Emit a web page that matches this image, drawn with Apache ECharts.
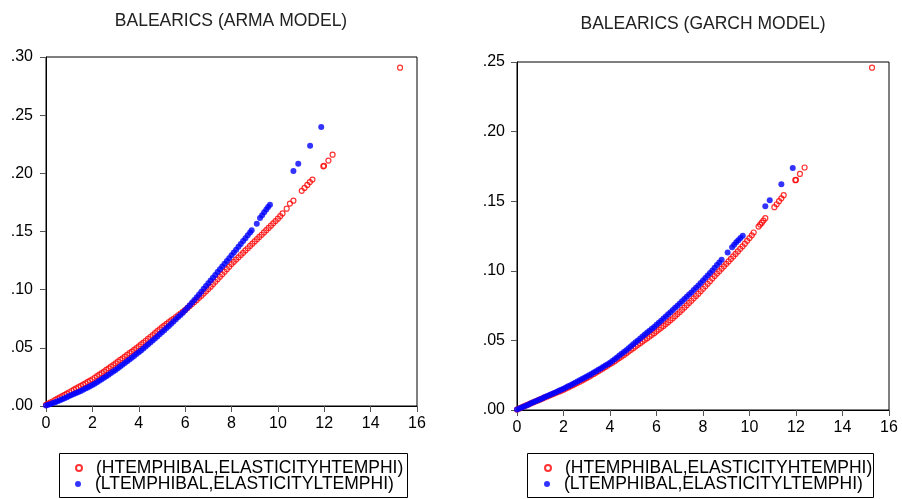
<!DOCTYPE html>
<html>
<head>
<meta charset="utf-8">
<script src="https://cdn.jsdelivr.net/npm/echarts@6/dist/echarts.min.js"></script>
<style>
  html, body { margin: 0; padding: 0; background: #fff; }
  #main { width: 902px; height: 499px; }
</style>
</head>
<body>
<div id="main"></div>
<script>
// names and ticks
var highName = '(HTEMPHIBAL,ELASTICITYHTEMPHI)';
var lowName = '(LTEMPHIBAL,ELASTICITYLTEMPHI)';
var titles = ['BALEARICS (ARMA MODEL)', 'BALEARICS (GARCH MODEL)'];
var xTicks = [0, 16, 2];
var yMaxArma = 0.30, yMaxGarch = 0.25, yStep = 0.05;

// ARMA model, [temperature, elasticity]
var armaHigh = [[0,.0010],[.1,.0020],[.2,.0031],[.3,.0041],[.4,.0052],[.5,.0063],[.6,.0074],[.7,.0085],[.8,.0096],[.9,.0107],
  [1,.0118],[1.1,.0129],[1.2,.0140],[1.3,.0151],[1.4,.0162],[1.5,.0173],[1.6,.0184],[1.7,.0195],[1.8,.0207],[1.9,.0218],
  [2,.0230],[2.1,.0243],[2.2,.0256],[2.3,.0269],[2.4,.0282],[2.5,.0296],[2.6,.0310],[2.7,.0324],[2.8,.0338],[2.9,.0352],
  [3,.0367],[3.1,.0381],[3.2,.0396],[3.3,.0410],[3.4,.0425],[3.5,.0439],[3.6,.0454],[3.7,.0468],[3.8,.0483],[3.9,.0498],
  [4,.0513],[4.1,.0529],[4.2,.0545],[4.3,.0561],[4.4,.0577],[4.5,.0593],[4.6,.0610],[4.7,.0626],[4.8,.0643],[4.9,.0659],
  [5,.0676],[5.1,.0691],[5.2,.0706],[5.3,.0721],[5.4,.0736],[5.5,.0750],[5.6,.0765],[5.7,.0780],[5.8,.0795],[5.9,.0810],
  [6,.0825],[6.1,.0842],[6.2,.0860],[6.3,.0877],[6.4,.0895],[6.5,.0912],[6.6,.0930],[6.7,.0948],[6.8,.0967],[6.9,.0986],
  [7,.1005],[7.1,.1026],[7.2,.1047],[7.3,.1068],[7.4,.1090],[7.5,.1111],[7.6,.1132],[7.7,.1154],[7.8,.1176],[7.9,.1198],
  [8,.1220],[8.1,.1239],[8.2,.1259],[8.3,.1278],[8.4,.1298],[8.5,.1317],[8.6,.1337],[8.7,.1356],[8.8,.1376],[8.9,.1395],
  [9,.1415],[9.1,.1434],[9.2,.1453],[9.3,.1472],[9.4,.1492],[9.5,.1511],[9.6,.1531],[9.7,.1550],[9.8,.1570],[9.9,.1590],
  [10,.1610],[10.1,.1632],[10.2,.1655],[10.38,.1696],[10.52,.1740],[10.67,.1765],[11.03,.1850],[11.15,.1875],[11.27,.1900],
  [11.38,.1925],[11.49,.1946],[11.96,.2060],[11.99,.2065],[12.18,.2110],[12.36,.2160],[15.27,.2908]];
var armaLow = [[0,.0005],[.1,.0011],[.2,.0018],[.3,.0025],[.4,.0032],[.5,.0040],[.6,.0049],[.7,.0058],[.8,.0067],[.9,.0076],
  [1,.0085],[1.1,.0094],[1.2,.0103],[1.3,.0112],[1.4,.0121],[1.5,.0130],[1.6,.0140],[1.7,.0150],[1.8,.0160],[1.9,.0170],
  [2,.0180],[2.1,.0192],[2.2,.0205],[2.3,.0217],[2.4,.0230],[2.5,.0243],[2.6,.0256],[2.7,.0269],[2.8,.0283],[2.9,.0296],
  [3,.0310],[3.1,.0324],[3.2,.0339],[3.3,.0354],[3.4,.0369],[3.5,.0384],[3.6,.0399],[3.7,.0414],[3.8,.0430],[3.9,.0446],
  [4,.0462],[4.1,.0478],[4.2,.0495],[4.3,.0512],[4.4,.0529],[4.5,.0546],[4.6,.0563],[4.7,.0580],[4.8,.0598],[4.9,.0616],
  [5,.0634],[5.1,.0652],[5.2,.0670],[5.3,.0688],[5.4,.0707],[5.5,.0726],[5.6,.0745],[5.7,.0764],[5.8,.0783],[5.9,.0802],
  [6,.0822],[6.1,.0844],[6.2,.0866],[6.3,.0889],[6.4,.0912],[6.5,.0935],[6.6,.0959],[6.7,.0983],[6.8,.1007],[6.9,.1031],
  [7,.1055],[7.1,.1079],[7.2,.1103],[7.3,.1127],[7.4,.1151],[7.5,.1175],[7.6,.1199],[7.7,.1223],[7.8,.1247],[7.9,.1271],
  [8,.1295],[8.1,.1319],[8.2,.1344],[8.3,.1368],[8.4,.1393],[8.5,.1418],[8.6,.1442],[8.7,.1467],[8.8,.1491],[8.87,.1510],
  [9.09,.1567],[9.23,.1616],[9.32,.1640],[9.41,.1665],[9.5,.1690],[9.58,.1710],[9.66,.1730],[10.67,.2020],[10.88,.2083],
  [11.39,.2238],[11.87,.2398]];

// GARCH model
var garchHigh = [[0,.0003],[.1,.0011],[.2,.0019],[.3,.0027],[.4,.0034],[.5,.0041],[.6,.0048],[.7,.0055],[.8,.0062],[.9,.0069],
  [1,.0076],[1.1,.0083],[1.2,.0090],[1.3,.0097],[1.4,.0104],[1.5,.0111],[1.6,.0118],[1.7,.0125],[1.8,.0132],[1.9,.0139],
  [2,.0146],[2.1,.0154],[2.2,.0162],[2.3,.0170],[2.4,.0178],[2.5,.0186],[2.6,.0195],[2.7,.0203],[2.8,.0212],[2.9,.0221],
  [3,.0230],[3.1,.0239],[3.2,.0249],[3.3,.0259],[3.4,.0269],[3.5,.0279],[3.6,.0289],[3.7,.0299],[3.8,.0309],[3.9,.0319],
  [4,.0330],[4.1,.0340],[4.2,.0351],[4.3,.0362],[4.4,.0373],[4.5,.0384],[4.6,.0396],[4.7,.0408],[4.8,.0420],[4.9,.0432],
  [5,.0444],[5.1,.0456],[5.2,.0468],[5.3,.0480],[5.4,.0492],[5.5,.0504],[5.6,.0516],[5.7,.0528],[5.8,.0540],[5.9,.0552],
  [6,.0565],[6.1,.0578],[6.2,.0591],[6.3,.0604],[6.4,.0617],[6.5,.0631],[6.6,.0645],[6.7,.0659],[6.8,.0674],[6.9,.0689],
  [7,.0704],[7.1,.0720],[7.2,.0736],[7.3,.0752],[7.4,.0769],[7.5,.0785],[7.6,.0802],[7.7,.0819],[7.8,.0836],[7.9,.0853],
  [8,.0871],[8.1,.0889],[8.2,.0907],[8.3,.0925],[8.4,.0944],[8.5,.0962],[8.6,.0980],[8.7,.0997],[8.8,.1015],[8.9,.1032],
  [9,.1050],[9.1,.1067],[9.2,.1085],[9.3,.1103],[9.4,.1121],[9.5,.1139],[9.6,.1158],[9.7,.1176],[9.8,.1195],[9.9,.1215],
  [10,.1235],[10.1,.1255],[10.18,.1275],[10.39,.1318],[10.46,.1332],[10.53,.1346],[10.6,.1361],[10.68,.1378],[11.07,.1457],
  [11.17,.1478],[11.27,.1500],[11.37,.1521],[11.47,.1543],[11.97,.1651],[12,.1653],[12.17,.1696],[12.37,.1742],[15.27,.2459]];
var garchLow = [[0,.0003],[.1,.0010],[.2,.0018],[.3,.0025],[.4,.0033],[.5,.0040],[.6,.0048],[.7,.0055],[.8,.0063],[.9,.0070],
  [1,.0078],[1.1,.0085],[1.2,.0093],[1.3,.0100],[1.4,.0108],[1.5,.0115],[1.6,.0123],[1.7,.0130],[1.8,.0138],[1.9,.0145],
  [2,.0153],[2.1,.0161],[2.2,.0170],[2.3,.0178],[2.4,.0187],[2.5,.0195],[2.6,.0204],[2.7,.0213],[2.8,.0222],[2.9,.0231],
  [3,.0240],[3.1,.0249],[3.2,.0259],[3.3,.0269],[3.4,.0279],[3.5,.0289],[3.6,.0299],[3.7,.0309],[3.8,.0319],[3.9,.0329],
  [4,.0340],[4.1,.0352],[4.2,.0365],[4.3,.0378],[4.4,.0391],[4.5,.0404],[4.6,.0417],[4.7,.0430],[4.8,.0444],[4.9,.0458],
  [5,.0472],[5.1,.0486],[5.2,.0500],[5.3,.0514],[5.4,.0528],[5.5,.0542],[5.6,.0556],[5.7,.0569],[5.8,.0583],[5.9,.0597],
  [6,.0612],[6.1,.0627],[6.2,.0642],[6.3,.0657],[6.4,.0672],[6.5,.0687],[6.6,.0703],[6.7,.0718],[6.8,.0734],[6.9,.0749],
  [7,.0765],[7.1,.0781],[7.2,.0797],[7.3,.0813],[7.4,.0829],[7.5,.0845],[7.6,.0862],[7.7,.0878],[7.8,.0895],[7.9,.0912],
  [8,.0930],[8.1,.0948],[8.2,.0966],[8.3,.0984],[8.4,.1003],[8.5,.1022],[8.6,.1041],[8.7,.1060],[8.8,.1079],[9.06,.1132],
  [9.25,.1170],[9.34,.1188],[9.43,.1205],[9.52,.1220],[9.61,.1236],[9.71,.1251],[10.68,.1464],[10.87,.1507],[11.37,.1622],
  [11.86,.1739]];

var FONT = 'Liberation Sans, Arial, sans-serif';

function xAxis(gi) {
  return {
    type: 'value', gridIndex: gi, min: xTicks[0], max: xTicks[1], interval: xTicks[2],
    axisLine: { lineStyle: { color: '#000', width: 1 } },
    axisTick: { inside: false, length: 6, lineStyle: { color: '#555' } },
    axisLabel: { margin: 10, color: '#000', fontSize: 16, fontFamily: FONT },
    splitLine: { show: false }
  };
}
function yAxis(gi, max, margin) {
  return {
    type: 'value', gridIndex: gi, min: 0, max: max, interval: yStep,
    axisLine: { lineStyle: { color: '#000', width: 1 } },
    axisTick: { inside: false, length: 6, lineStyle: { color: '#555' } },
    axisLabel: {
      margin: margin, color: '#000', fontSize: 16, fontFamily: FONT,
      formatter: function (v) { return v.toFixed(2).replace(/^0/, ''); }
    },
    splitLine: { show: false }
  };
}
function highSeries(i, data) {
  return {
    name: highName, type: 'scatter', xAxisIndex: i, yAxisIndex: i, data: data,
    symbol: 'circle', symbolSize: 5, silent: true,
    itemStyle: { color: 'rgba(255,255,255,0)', borderColor: '#ff0000', borderWidth: 1.2 }
  };
}
function lowSeries(i, data) {
  return {
    name: lowName, type: 'scatter', xAxisIndex: i, yAxisIndex: i, data: data,
    symbol: 'circle', symbolSize: 6, silent: true,
    itemStyle: { color: '#0000ff' }
  };
}
// one legend entry each, the frame is drawn separately
function legendItem(left, top, name) {
  return {
    left: left, top: top, orient: 'vertical', selectedMode: false,
    data: [name], itemWidth: 6, itemHeight: 6, padding: 0,
    textStyle: { fontSize: 17.5, lineHeight: 16, color: '#000', fontFamily: FONT, padding: [0, 0, 0, 9] }
  };
}
function legendBox(x, w) {
  return { type: 'rect', shape: { x: x + 0.5, y: 453.5, width: w, height: 44 },
    style: { fill: 'none', stroke: '#000', lineWidth: 1 } };
}
function titleText(x, y, t) {
  return { type: 'text', x: x, y: y,
    style: { text: t, fill: '#222', font: '17.5px ' + FONT, textAlign: 'center', textVerticalAlign: 'middle' } };
}

var chart = echarts.init(document.getElementById('main'));
chart.setOption({
  animation: false,
  backgroundColor: '#fff',
  graphic: [
    titleText(231, 21, titles[0]),
    titleText(703, 24, titles[1]),
    legendBox(59, 348),
    legendBox(527, 346)
  ],
  grid: [
    { left: 46, top: 57, width: 371, height: 349, show: true, borderColor: '#000', borderWidth: 1 },
    { left: 517, top: 62, width: 372, height: 348, show: true, borderColor: '#000', borderWidth: 1 }
  ],
  xAxis: [xAxis(0), xAxis(1)],
  yAxis: [yAxis(0, yMaxArma, 13), yAxis(1, yMaxGarch, 12)],
  legend: [
    legendItem(75, 459, highName), legendItem(75, 475, lowName),
    legendItem(544, 459, highName), legendItem(544, 475, lowName)
  ],
  series: [
    highSeries(0, armaHigh), lowSeries(0, armaLow),
    highSeries(1, garchHigh), lowSeries(1, garchLow)
  ]
});
</script>
</body>
</html>
